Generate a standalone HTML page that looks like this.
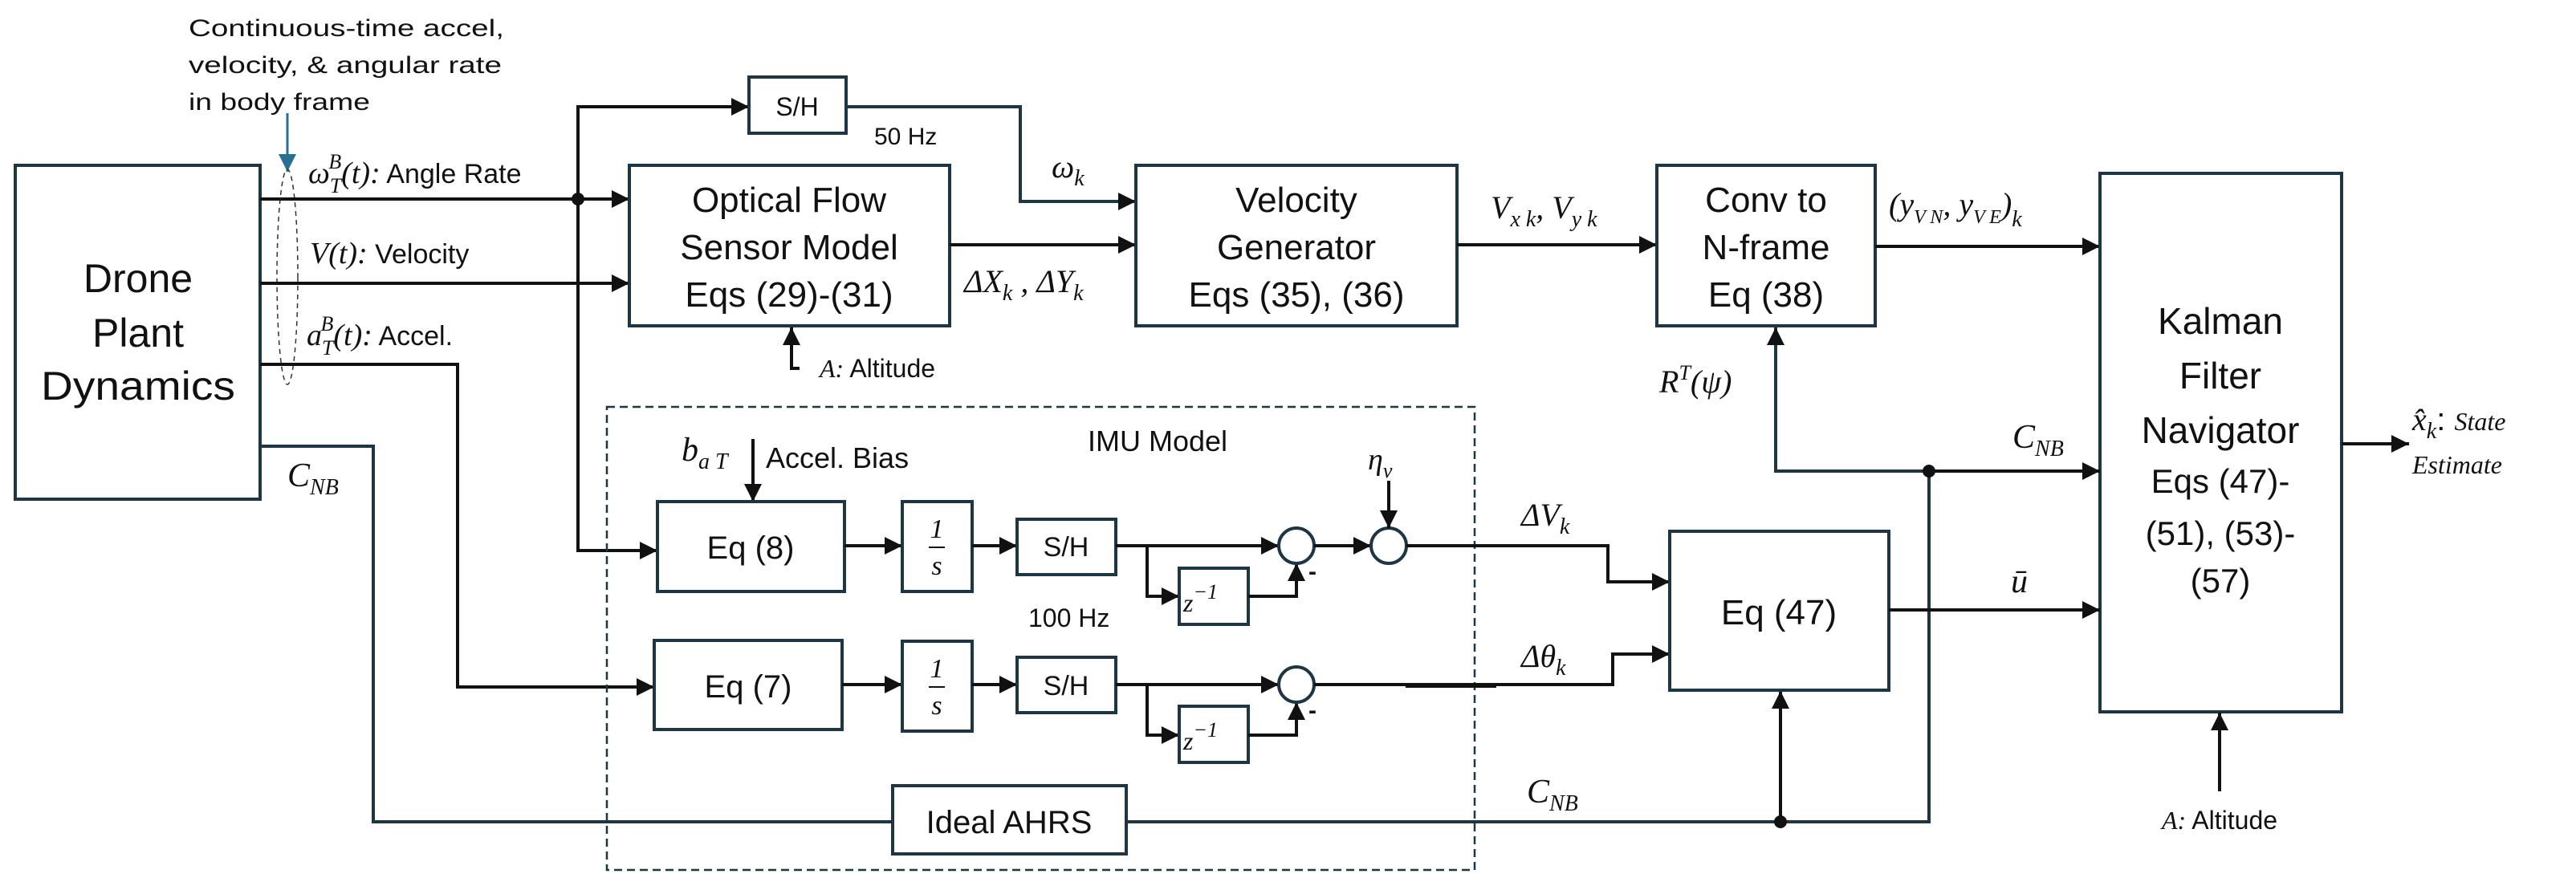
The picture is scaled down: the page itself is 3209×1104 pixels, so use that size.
<!DOCTYPE html>
<html><head><meta charset="utf-8"><style>
html,body{margin:0;padding:0;background:#fff;}
svg{display:block;}
.t{font-family:"Liberation Sans",sans-serif;fill:#111;}
.m{font-family:"Liberation Serif",serif;font-style:italic;fill:#111;}
.b{fill:none;stroke:#1e3644;stroke-width:4;}
.l{fill:none;stroke:#111;stroke-width:4;}
</style></head><body>
<svg width="3209" height="1104" viewBox="0 0 3209 1104" xmlns="http://www.w3.org/2000/svg">
<defs>
<marker id="A" viewBox="0 0 10 10" refX="10" refY="5" markerWidth="22" markerHeight="22" orient="auto" markerUnits="userSpaceOnUse"><path d="M0,0 L10,5 L0,10 z" fill="#111"/></marker>
<marker id="Ab" viewBox="0 0 10 10" refX="10" refY="5" markerWidth="22" markerHeight="22" orient="auto" markerUnits="userSpaceOnUse"><path d="M0,0 L10,5 L0,10 z" fill="#2a6f8f"/></marker>
</defs>

<!-- annotation -->
<text class="t" x="235" y="45" font-size="30" textLength="393" lengthAdjust="spacingAndGlyphs">Continuous-time accel,</text>
<text class="t" x="235" y="91" font-size="30" textLength="390" lengthAdjust="spacingAndGlyphs">velocity, &amp; angular  rate</text>
<text class="t" x="235" y="137" font-size="30" textLength="226" lengthAdjust="spacingAndGlyphs">in body frame</text>
<line x1="358" y1="141" x2="358" y2="214" stroke="#2a6f8f" stroke-width="3" marker-end="url(#Ab)"/>
<ellipse cx="358" cy="345" rx="13" ry="134" fill="none" stroke="#333" stroke-width="1.5" stroke-dasharray="6,5"/>

<!-- Drone box -->
<rect class="b" x="19" y="206" width="305" height="416"/>
<text class="t" x="172" y="364" font-size="50" text-anchor="middle">Drone</text>
<text class="t" x="172" y="432" font-size="50" text-anchor="middle">Plant</text>
<text class="t" x="172" y="498" font-size="50" text-anchor="middle" textLength="242" lengthAdjust="spacingAndGlyphs">Dynamics</text>

<!-- inputs to optical -->
<line class="l" x1="324" y1="248" x2="784" y2="248" marker-end="url(#A)"/>
<circle cx="720" cy="248" r="8" fill="#111"/>
<text x="384" y="228" font-size="38"><tspan class="m">ω</tspan><tspan class="m" font-size="26" dy="12">T</tspan><tspan class="m" font-size="26" dx="-16" dy="-30">B</tspan><tspan class="m" dy="18">(t):</tspan><tspan class="t" font-size="34"> Angle Rate</tspan></text>
<line class="l" x1="324" y1="353" x2="784" y2="353" marker-end="url(#A)"/>
<text x="386" y="328" font-size="38"><tspan class="m">V(t):</tspan><tspan class="t" font-size="34"> Velocity</tspan></text>
<text x="382" y="430" font-size="38"><tspan class="m">a</tspan><tspan class="m" font-size="26" dy="12">T</tspan><tspan class="m" font-size="26" dx="-16" dy="-30">B</tspan><tspan class="m" dy="18">(t):</tspan><tspan class="t" font-size="34"> Accel.</tspan></text>
<polyline class="l" points="324,454 570,454 570,856 815,856" marker-end="url(#A)"/>
<polyline class="l" points="720,248 720,133 933,133" marker-end="url(#A)"/>
<polyline class="l" points="720,248 720,686 819,686" marker-end="url(#A)"/>

<!-- C_NB from drone -->
<polyline class="b" points="324,556 465,556 465,1024 1112,1024"/>
<text x="358" y="606" font-size="42"><tspan class="m">C</tspan><tspan class="m" font-size="28" dy="10">NB</tspan></text>

<!-- S/H top -->
<rect class="b" x="933" y="96" width="121" height="70"/>
<text class="t" x="993" y="144" font-size="32" text-anchor="middle">S/H</text>
<polyline class="b" points="1054,133 1271,133 1271,251 1415,251" marker-end="url(#A)"/>
<text class="t" x="1089" y="180" font-size="30">50 Hz</text>
<text x="1310" y="221" font-size="40"><tspan class="m">ω</tspan><tspan class="m" font-size="28" dy="10">k</tspan></text>

<!-- Optical Flow -->
<rect class="b" x="784" y="206" width="399" height="200"/>
<text class="t" x="983" y="264" font-size="44" text-anchor="middle">Optical Flow</text>
<text class="t" x="983" y="323" font-size="44" text-anchor="middle">Sensor Model</text>
<text class="t" x="983" y="382" font-size="44" text-anchor="middle">Eqs (29)-(31)</text>
<polyline class="l" points="996,459 986,459 986,408" marker-end="url(#A)"/>
<text x="1021" y="470" font-size="32"><tspan class="m">A:</tspan><tspan class="t"> Altitude</tspan></text>

<line class="l" x1="1183" y1="305" x2="1415" y2="305" marker-end="url(#A)"/>
<text x="1201" y="364" font-size="40"><tspan class="m">ΔX</tspan><tspan class="m" font-size="28" dy="10">k</tspan><tspan class="m" dy="-10"> , ΔY</tspan><tspan class="m" font-size="28" dy="10">k</tspan></text>

<!-- Velocity Generator -->
<rect class="b" x="1415" y="206" width="400" height="200"/>
<text class="t" x="1615" y="264" font-size="44" text-anchor="middle">Velocity</text>
<text class="t" x="1615" y="323" font-size="44" text-anchor="middle">Generator</text>
<text class="t" x="1615" y="382" font-size="44" text-anchor="middle">Eqs (35), (36)</text>
<line class="l" x1="1815" y1="305" x2="2064" y2="305" marker-end="url(#A)"/>
<text x="1857" y="272" font-size="40"><tspan class="m">V</tspan><tspan class="m" font-size="28" dy="10">x k</tspan><tspan class="m" dy="-10">, V</tspan><tspan class="m" font-size="28" dy="10">y k</tspan></text>

<!-- Conv -->
<rect class="b" x="2064" y="206" width="272" height="200"/>
<text class="t" x="2200" y="264" font-size="44" text-anchor="middle">Conv to</text>
<text class="t" x="2200" y="323" font-size="44" text-anchor="middle">N-frame</text>
<text class="t" x="2200" y="382" font-size="44" text-anchor="middle">Eq (38)</text>
<line class="l" x1="2336" y1="307" x2="2616" y2="307" marker-end="url(#A)"/>
<text x="2353" y="268" font-size="40"><tspan class="m">(y</tspan><tspan class="m" font-size="24" dy="10">V N</tspan><tspan class="m" dy="-10">, y</tspan><tspan class="m" font-size="24" dy="10">V E</tspan><tspan class="m" dy="-10">)</tspan><tspan class="m" font-size="28" dy="14">k</tspan></text>
<text x="2067" y="489" font-size="40"><tspan class="m">R</tspan><tspan class="m" font-size="26" dy="-16">T</tspan><tspan class="m" dy="16">(ψ)</tspan></text>

<!-- Kalman -->
<rect class="b" x="2616" y="216" width="301" height="671"/>
<text class="t" x="2766" y="416" font-size="46" text-anchor="middle">Kalman</text>
<text class="t" x="2766" y="484" font-size="46" text-anchor="middle">Filter</text>
<text class="t" x="2766" y="552" font-size="46" text-anchor="middle">Navigator</text>
<text class="t" x="2766" y="614" font-size="42" text-anchor="middle">Eqs (47)-</text>
<text class="t" x="2766" y="679" font-size="42" text-anchor="middle">(51), (53)-</text>
<text class="t" x="2766" y="738" font-size="42" text-anchor="middle">(57)</text>
<line class="l" x1="2917" y1="553" x2="3001" y2="553" marker-end="url(#A)"/>
<text x="3005" y="536" font-size="40"><tspan class="m">x̂</tspan><tspan class="m" font-size="28" dy="10">k</tspan><tspan class="t" dy="-10">: </tspan><tspan class="m" font-size="32">State</tspan></text>
<text class="m" x="3005" y="590" font-size="32">Estimate</text>
<line class="l" x1="2765" y1="986" x2="2765" y2="888" stroke-width="3" marker-end="url(#A)"/>
<text x="2765" y="1033" font-size="32" text-anchor="middle"><tspan class="m">A:</tspan><tspan class="t"> Altitude</tspan></text>

<!-- IMU dashed box -->
<rect x="756" y="507" width="1081" height="577" fill="none" stroke="#1e3644" stroke-width="2.5" stroke-dasharray="10,6"/>
<text class="t" x="1355" y="562" font-size="36">IMU  Model</text>
<text x="849" y="574" font-size="42"><tspan class="m">b</tspan><tspan class="m" font-size="28" dy="10">a T</tspan></text>
<line class="l" x1="938" y1="547" x2="938" y2="625" stroke-width="3" marker-end="url(#A)"/>
<text class="t" x="954" y="583" font-size="36">Accel. Bias</text>

<!-- row 1 -->
<rect class="b" x="819" y="625" width="233" height="112"/>
<text class="t" x="935" y="696" font-size="40" text-anchor="middle">Eq (8)</text>
<line class="l" x1="1052" y1="680" x2="1124" y2="680" marker-end="url(#A)"/>
<rect class="b" x="1124" y="625" width="87" height="112"/>
<text class="m" x="1167" y="670" font-size="34" text-anchor="middle">1</text>
<line x1="1157" y1="682" x2="1177" y2="682" stroke="#111" stroke-width="2"/>
<text class="m" x="1167" y="716" font-size="34" text-anchor="middle">s</text>
<line class="l" x1="1211" y1="680" x2="1267" y2="680" marker-end="url(#A)"/>
<rect class="b" x="1267" y="647" width="123" height="69"/>
<text class="t" x="1328" y="693" font-size="34" text-anchor="middle">S/H</text>
<line class="l" x1="1390" y1="680" x2="1593" y2="680" marker-end="url(#A)"/>
<polyline class="l" points="1429,680 1429,743 1469,743" marker-end="url(#A)"/>
<rect class="b" x="1469" y="708" width="86" height="70"/>
<text x="1474" y="762" font-size="32"><tspan class="m">z</tspan><tspan class="m" font-size="26" dy="-16">−1</tspan></text>
<polyline class="l" points="1555,743 1615,743 1615,702" marker-end="url(#A)"/>
<text class="t" x="1630" y="722" font-size="30" font-weight="bold">-</text>
<circle cx="1615" cy="680" r="22" fill="none" stroke="#1e3644" stroke-width="4"/>
<line class="l" x1="1637" y1="680" x2="1708" y2="680" marker-end="url(#A)"/>
<circle cx="1730" cy="680" r="22" fill="none" stroke="#1e3644" stroke-width="4"/>
<text x="1704" y="585" font-size="38"><tspan class="m">η</tspan><tspan class="m" font-size="26" dy="10">v</tspan></text>
<line class="l" x1="1730" y1="599" x2="1730" y2="658" stroke-width="3" marker-end="url(#A)"/>
<polyline class="l" points="1752,680 2003,680 2003,725 2080,725" stroke-width="3.5" marker-end="url(#A)"/>
<text x="1895" y="655" font-size="40"><tspan class="m">ΔV</tspan><tspan class="m" font-size="28" dy="10">k</tspan></text>
<text class="t" x="1281" y="781" font-size="32">100 Hz</text>

<!-- row 2 -->
<rect class="b" x="815" y="798" width="234" height="111"/>
<text class="t" x="932" y="869" font-size="40" text-anchor="middle">Eq (7)</text>
<line class="l" x1="1049" y1="853" x2="1124" y2="853" marker-end="url(#A)"/>
<rect class="b" x="1124" y="799" width="87" height="112"/>
<text class="m" x="1167" y="844" font-size="34" text-anchor="middle">1</text>
<line x1="1157" y1="856" x2="1177" y2="856" stroke="#111" stroke-width="2"/>
<text class="m" x="1167" y="890" font-size="34" text-anchor="middle">s</text>
<line class="l" x1="1211" y1="853" x2="1267" y2="853" marker-end="url(#A)"/>
<rect class="b" x="1267" y="819" width="123" height="69"/>
<text class="t" x="1328" y="866" font-size="34" text-anchor="middle">S/H</text>
<line class="l" x1="1390" y1="853" x2="1593" y2="853" marker-end="url(#A)"/>
<polyline class="l" points="1429,853 1429,916 1469,916" marker-end="url(#A)"/>
<rect class="b" x="1469" y="880" width="86" height="70"/>
<text x="1474" y="934" font-size="32"><tspan class="m">z</tspan><tspan class="m" font-size="26" dy="-16">−1</tspan></text>
<polyline class="l" points="1555,916 1615,916 1615,875" marker-end="url(#A)"/>
<text class="t" x="1630" y="895" font-size="30" font-weight="bold">-</text>
<circle cx="1615" cy="853" r="22" fill="none" stroke="#1e3644" stroke-width="4"/>
<polyline class="l" points="1637,853 2009,853 2009,815 2080,815" stroke-width="3.5" marker-end="url(#A)"/>
<line x1="1751" y1="854" x2="1864" y2="854" stroke="#111" stroke-width="6"/>
<text x="1895" y="831" font-size="40"><tspan class="m">Δθ</tspan><tspan class="m" font-size="28" dy="10">k</tspan></text>

<!-- Ideal AHRS -->
<rect class="b" x="1112" y="979" width="291" height="85"/>
<text class="t" x="1257" y="1038" font-size="40" text-anchor="middle">Ideal AHRS</text>
<polyline class="b" points="1403,1024 2403,1024 2403,587"/>
<text x="1902" y="1000" font-size="42"><tspan class="m">C</tspan><tspan class="m" font-size="28" dy="10">NB</tspan></text>
<circle cx="2218" cy="1024" r="8" fill="#111"/>
<line class="l" x1="2218" y1="1024" x2="2218" y2="861" stroke-width="3" marker-end="url(#A)"/>

<!-- Eq 47 -->
<rect class="b" x="2080" y="662" width="273" height="198"/>
<text class="t" x="2216" y="778" font-size="44" text-anchor="middle">Eq (47)</text>
<line class="l" x1="2353" y1="760" x2="2616" y2="760" marker-end="url(#A)"/>
<text class="m" x="2505" y="738" font-size="42">ū</text>

<!-- C_NB to Kalman and R^T -->
<polyline class="b" points="2212,408 2212,587 2403,587"/>
<line x1="2212" y1="430" x2="2212" y2="408" stroke="#1e3644" stroke-width="4" marker-end="url(#A)"/>
<line class="l" x1="2403" y1="587" x2="2616" y2="587" marker-end="url(#A)"/>
<circle cx="2403" cy="587" r="8" fill="#111"/>
<text x="2507" y="558" font-size="42"><tspan class="m">C</tspan><tspan class="m" font-size="28" dy="10">NB</tspan></text>
</svg>
</body></html>
